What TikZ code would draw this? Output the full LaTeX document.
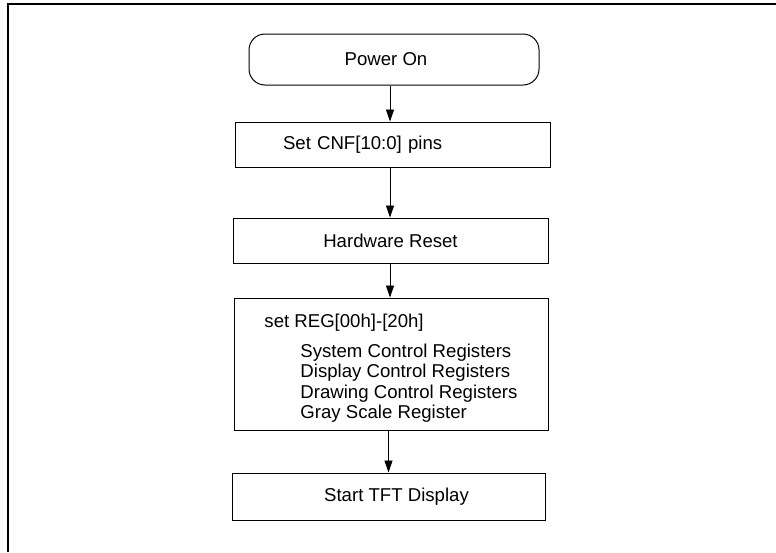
\documentclass[tikz,border=0pt]{standalone}
\usepackage{fontspec}
\setmainfont{Liberation Sans}
\usetikzlibrary{arrows.meta}
\begin{document}
\begin{tikzpicture}[x=1pt,y=-1pt,
  every node/.style={font=\fontsize{18.6}{20.5}\selectfont},
  flowbox/.style={draw, line width=1pt, inner xsep=0pt, inner ysep=0pt},
  startbox/.style={flowbox, rounded corners=16pt},
  arr/.style={line width=0.9pt, -{Triangle[length=12pt,width=8pt]}}]
\useasboundingbox (0,0) rectangle (776,552);
\draw[line width=1.7pt] (8,552) -- (8,4) -- (776,4);
\node[startbox, minimum width=290, minimum height=51] (power) at (394,59.5) {Power On\hspace*{16pt}};
\node[flowbox, minimum width=315, minimum height=45, text width=219, align=left] (cnf) at (392.5,144.5) {Set CNF[10:0] pins};
\node[flowbox, minimum width=315, minimum height=45] (reset) at (390.5,240.5) {Hardware Reset};
\node[flowbox, minimum width=314, minimum height=132, align=left] (reg) at (391,364) {\rule{0pt}{22pt}set REG[00h]-[20h]\\[9.5pt]
\hspace*{36pt}System Control Registers\\
\hspace*{36pt}Display Control Registers\\
\hspace*{36pt}Drawing Control Registers\\
\hspace*{36pt}Gray Scale Register};
\node[flowbox, minimum width=313, minimum height=47] (start) at (388.5,496.5) {\hspace*{16pt}Start TFT Display};
\coordinate (ax) at (390,0);
\coordinate (bx) at (388.5,0);
\draw[arr] (power.south -| ax) -- (cnf.north -| ax);
\draw[arr] (cnf.south -| ax) -- (reset.north -| ax);
\draw[arr] (reset.south -| ax) -- (reg.north -| ax);
\draw[arr] (reg.south -| bx) -- (start.north -| bx);
\end{tikzpicture}
\end{document}
